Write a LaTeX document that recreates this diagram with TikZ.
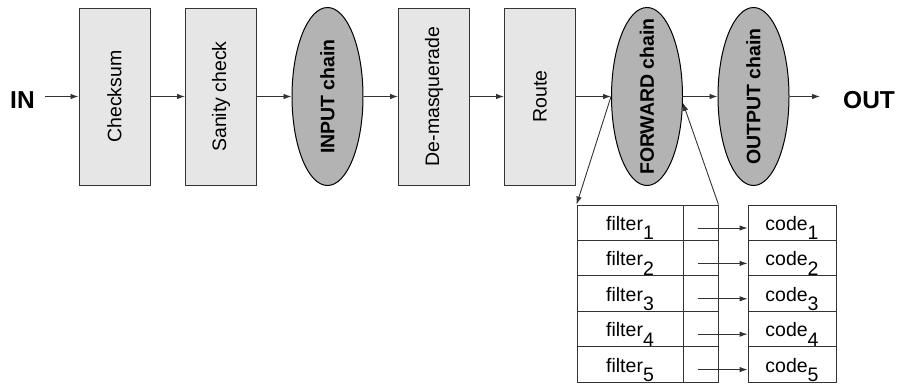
\documentclass[tikz,border=0pt]{standalone}
\usepackage{fontspec}
\setmainfont{Liberation Sans}
\usetikzlibrary{shapes.geometric,arrows.meta}

\definecolor{boxfill}{HTML}{E6E6E6}
\definecolor{chainfill}{HTML}{B3B3B3}
\definecolor{edge}{HTML}{333333}

\newcommand{\lbl}{\fontsize{19.5}{22}\selectfont}
\newcommand{\sub}[1]{\raisebox{-9.5pt}{#1}}
% upright text turned a quarter, taking no room along its length
\newcommand{\vtext}[1]{\rotatebox{90}{\makebox[0pt]{#1}}}

\tikzset{
  stagebox/.style={draw=edge, line width=1pt, fill=boxfill, rectangle,
    minimum width=71pt, minimum height=177pt, inner sep=0pt, font=\lbl},
  chain/.style={draw=black, line width=1pt, fill=chainfill, ellipse,
    minimum width=71pt, minimum height=178pt, inner sep=0pt, font=\lbl\bfseries},
  cell/.style={draw=edge, line width=0.9pt, rectangle, inner sep=0pt,
    minimum height=35.4pt, text height=20pt, text depth=4.6pt, font=\lbl},
  arr/.style={line width=0.9pt, draw=edge, -{Latex[length=8pt,width=5.5pt]}},
  endlabel/.style={font=\fontsize{24.5}{28}\selectfont\bfseries, inner sep=0pt},
}

\begin{document}
\begin{tikzpicture}[x=1pt,y=-1pt]
  \useasboundingbox (0,0) rectangle (902,383);

  % processing stages along the packet path
  \node[stagebox] (checksum) at (114.5,96.5) {\vtext{Checksum}};
  \node[stagebox] (sanity)   at (221,96.5)   {\vtext{Sanity check}};
  \node[chain]    (input)    at (327.5,96.5) {\vtext{INPUT chain}};
  \node[stagebox] (demasq)   at (434,96.5)   {\vtext{De-masquerade}};
  \node[stagebox] (route)    at (540,96.5)   {\vtext{Route}};
  \node[chain]    (forward)  at (647,96.5)   {\vtext{FORWARD chain}};
  \node[chain]    (output)   at (753.5,96.5) {\vtext{OUTPUT chain}};

  \node[endlabel, anchor=base west] (inlbl)  at (10,108.3)  {IN};
  \node[endlabel, anchor=base west] (outlbl) at (843,108.3) {OUT};

  % main flow
  \draw[arr, shorten <=10pt] (checksum.west -| inlbl.east) -- (checksum.west);
  \draw[arr] (checksum) -- (sanity);
  \draw[arr] (sanity) -- (input);
  \draw[arr] (input) -- (demasq);
  \draw[arr] (demasq) -- (route);
  \draw[arr] (route) -- (forward);
  \draw[arr] (forward) -- (output);
  \draw[arr, shorten >=23pt] (output.east) -- (output.east -| outlbl.west);

  % rule table of the FORWARD chain
  \foreach \i/\y in {1/222.7, 2/258.1, 3/293.5, 4/328.9, 5/364.3} {
    \node[cell, minimum width=106pt] (f\i) at (630,\y) {filter\sub{\i}};
    \node[cell, minimum width=35pt]  (s\i) at (700.5,\y) {};
    \node[cell, minimum width=88pt]  (c\i) at (792,\y) {code\sub{\i}};
    \draw[arr] ([xshift=15pt,yshift=-5.3pt]s\i.west) -- ([yshift=-5.3pt]c\i.west);
  }

  % jump into the table and back
  \draw[arr] (forward.west) -- (f1.north west);
  \draw[arr] (s1.north east) -- (forward.-10);
\end{tikzpicture}
\end{document}
